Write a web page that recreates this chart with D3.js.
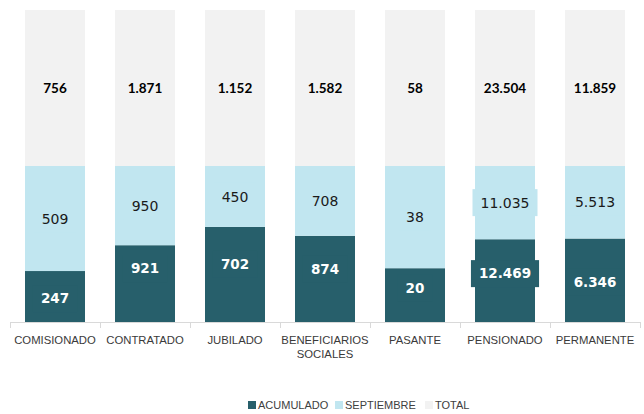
<!DOCTYPE html>
<html>
<head>
<meta charset="utf-8">
<script src="https://cdn.jsdelivr.net/npm/d3@7"></script>
<style>
  body { margin: 0; background: #fff; }
  svg { display: block; }
</style>
</head>
<body>
<div id="chart"></div>
<script>
// Data
const categories = ['COMISIONADO', 'CONTRATADO', 'JUBILADO', 'BENEFICIARIOS SOCIALES', 'PASANTE', 'PENSIONADO', 'PERMANENTE'];
const acumulado = [247, 921, 702, 874, 20, 12469, 6346];
const septiembre = [509, 950, 450, 708, 38, 11035, 5513];
const total = [756, 1871, 1152, 1582, 58, 23504, 11859];

// labels on the dark segments were nudged by hand in the original (px)
const acumuladoLabelNudge = [2, -15, -10, -10, -7, -7, 2];

const seriesKeys = ['ACUMULADO', 'SEPTIEMBRE', 'TOTAL'];
const colors = { ACUMULADO: '#275F6B', SEPTIEMBRE: '#C1E6F0', TOTAL: '#F2F2F2' };

const width = 644, height = 414;

const rows = categories.map((c, i) => ({
    cat: c,
    idx: i,
    ACUMULADO: acumulado[i],
    SEPTIEMBRE: septiembre[i],
    TOTAL: total[i]
}));

const locale = d3.formatLocale({ decimal: ',', thousands: '.', grouping: [3], currency: ['', ''] });
const fmt = locale.format(',d');

const svg = d3.select('#chart').append('svg')
    .attr('width', width)
    .attr('height', height);

const x = d3.scaleBand()
    .domain(categories)
    .range([10, 640])
    .paddingInner(1 / 3)
    .paddingOuter(1 / 6);

const y = d3.scaleLinear().domain([0, 1]).range([322, 10]);

// 100% stacked layout
const stacked = d3.stack()
    .keys(seriesKeys)
    .offset(d3.stackOffsetExpand)(rows);

// Bars
const layers = svg.selectAll('g.layer')
    .data(stacked)
    .enter()
    .append('g')
    .attr('class', 'layer')
    .attr('fill', d => colors[d.key]);

layers.selectAll('rect')
    .data(d => d)
    .enter()
    .append('rect')
    .attr('x', d => x(d.data.cat))
    .attr('width', x.bandwidth())
    .attr('y', d => y(d[1]))
    .attr('height', d => y(d[0]) - y(d[1]));

// Axis line + tick marks between categories
const axisG = svg.append('g');
axisG.append('line')
    .attr('x1', x.range()[0]).attr('x2', x.range()[1])
    .attr('y1', 322.5).attr('y2', 322.5)
    .attr('stroke', '#D9D9D9');
const tickPos = categories.map(c => x(c) - x.step() * x.paddingInner() / 2)
    .concat([x.range()[1]]);
tickPos[0] = x.range()[0];
axisG.selectAll('line.tick')
    .data(tickPos)
    .enter()
    .append('line')
    .attr('class', 'tick')
    .attr('x1', d => Math.round(d) + 0.5).attr('x2', d => Math.round(d) + 0.5)
    .attr('y1', 322).attr('y2', 328)
    .attr('stroke', '#D9D9D9');

// Category labels
const catText = svg.append('g')
    .selectAll('text')
    .data(categories)
    .enter()
    .append('text')
    .attr('x', d => x(d) + x.bandwidth() / 2)
    .attr('y', 344)
    .attr('text-anchor', 'middle')
    .attr('font-family', '"Liberation Sans", Arial, sans-serif')
    .attr('font-size', '11.3px')
    .attr('fill', '#3a3a3a');
catText.each(function (d) {
    const words = d === 'BENEFICIARIOS SOCIALES' ? ['BENEFICIARIOS', 'SOCIALES'] : [d];
    const t = d3.select(this);
    words.forEach((w, i) => {
        t.append('tspan')
            .attr('x', x(d) + x.bandwidth() / 2)
            .attr('dy', i === 0 ? 0 : 14)
            .text(w);
    });
});

// Value labels
const labelStyle = {
    ACUMULADO: { fill: '#FFFFFF', family: '"DejaVu Sans", Verdana, sans-serif', size: '13.5px', weight: 'bold' },
    SEPTIEMBRE: { fill: '#1a1a1a', family: '"DejaVu Sans", Verdana, sans-serif', size: '14px', weight: 'normal' },
    TOTAL: { fill: '#000000', family: 'Lato, "Open Sans", sans-serif', size: '13.5px', weight: 'bold' }
};

stacked.forEach(layer => {
    const st = labelStyle[layer.key];
    const g = svg.append('g');
    layer.forEach(d => {
        const cx = x(d.data.cat) + x.bandwidth() / 2;
        let cy = (y(d[0]) + y(d[1])) / 2;
        if (layer.key === 'ACUMULADO') cy += acumuladoLabelNudge[d.data.idx];
        const lg = g.append('g');
        const bg = lg.append('rect').attr('fill', colors[layer.key]);
        const txt = lg.append('text')
            .attr('x', cx)
            .attr('y', cy)
            .attr('dy', '0.36em')
            .attr('text-anchor', 'middle')
            .attr('font-family', st.family)
            .attr('font-size', st.size)
            .attr('font-weight', st.weight)
            .attr('fill', st.fill)
            .text(fmt(d.data[layer.key]));
        const w = txt.node().getComputedTextLength();
        bg.attr('x', cx - w / 2 - 8)
            .attr('width', w + 16)
            .attr('y', cy - 13.5)
            .attr('height', 27);
    });
});

// Legend
const legendItems = [
    { key: 'ACUMULADO', x: 248 },
    { key: 'SEPTIEMBRE', x: 335 },
    { key: 'TOTAL', x: 425 }
];
const lg = svg.append('g');
legendItems.forEach(it => {
    lg.append('rect')
        .attr('x', it.x).attr('y', 401)
        .attr('width', 8).attr('height', 8)
        .attr('fill', colors[it.key]);
    lg.append('text')
        .attr('x', it.x + 10)
        .attr('y', 409)
        .attr('font-family', '"Liberation Sans", Arial, sans-serif')
        .attr('font-size', '11px')
        .attr('fill', '#404040')
        .text(it.key);
});
</script>
</body>
</html>
